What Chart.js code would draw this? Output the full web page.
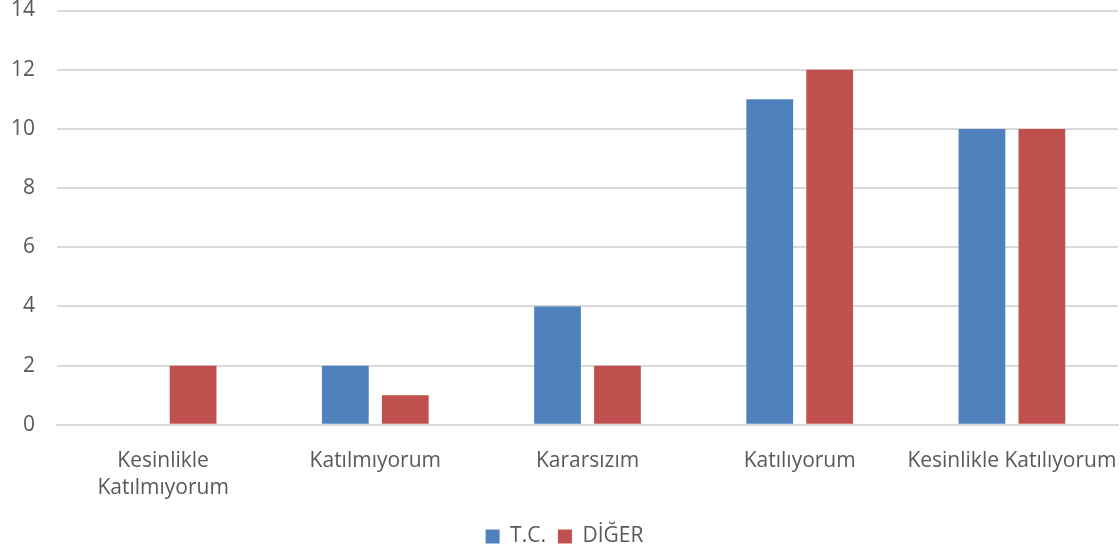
<!DOCTYPE html>
<html>
<head>
<meta charset="utf-8">
<script src="https://cdn.jsdelivr.net/npm/chart.js@4"></script>
<style>
  html, body { margin: 0; padding: 0; background: #fff; }
  #wrap { width: 1120px; height: 557px; }
</style>
</head>
<body>
<div id="wrap"><canvas id="barChart"></canvas></div>
<script>
const categories = [['Kesinlikle', 'Katılmıyorum'], 'Katılmıyorum', 'Kararsızım', 'Katılıyorum', 'Kesinlikle Katılıyorum'];
const tcValues = [0, 2, 4, 11, 10];
const digerValues = [2, 1, 2, 12, 10];
const yTicks = [0, 2, 4, 6, 8, 10, 12, 14];

const textColor = '#595959';
const fontFamily = "'Open Sans', 'Liberation Sans', sans-serif";
const hidden = 'rgba(0,0,0,0)';

const barCtx = document.getElementById('barChart').getContext('2d');
const barChart = new Chart(barCtx, {
  type: 'bar',
  data: {
    labels: categories,
    datasets: [
      {
        label: 'T.C.',
        data: tcValues,
        backgroundColor: '#4f81bd',
        categoryPercentage: 0.565,
        barPercentage: 0.78
      },
      {
        label: 'DİĞER',
        data: digerValues,
        backgroundColor: '#c0504d',
        categoryPercentage: 0.565,
        barPercentage: 0.78
      }
    ]
  },
  options: {
    responsive: true,
    maintainAspectRatio: false,
    animation: false,
    layout: { padding: { left: 11, right: 2, top: 0, bottom: 0 } },
    plugins: {
      tooltip: { enabled: false },
      legend: {
        position: 'bottom',
        labels: {
          boxWidth: 14,
          boxHeight: 14,
          padding: 12,
          color: textColor,
          font: { family: fontFamily, size: 21 }
        }
      }
    },
    scales: {
      x: {
        afterFit: (scale) => { scale.height += 12; },
        grid: { drawOnChartArea: false, drawTicks: true, tickLength: 23, tickColor: hidden },
        border: { color: '#d9d9d9', width: 2 },
        ticks: {
          color: textColor,
          padding: 0,
          maxRotation: 0,
          autoSkip: false,
          font: { family: fontFamily, size: 21, lineHeight: 1.29 }
        }
      },
      y: {
        min: 0,
        max: 14,
        afterBuildTicks: (axis) => { axis.ticks = yTicks.map(v => ({ value: v })); },
        grid: { color: '#d9d9d9', lineWidth: 2, drawTicks: true, tickLength: 22, tickColor: hidden },
        border: { display: false },
        ticks: {
          color: textColor,
          padding: 0,
          font: { family: fontFamily, size: 21, lineHeight: 1 }
        }
      }
    }
  }
});
</script>
</body>
</html>
